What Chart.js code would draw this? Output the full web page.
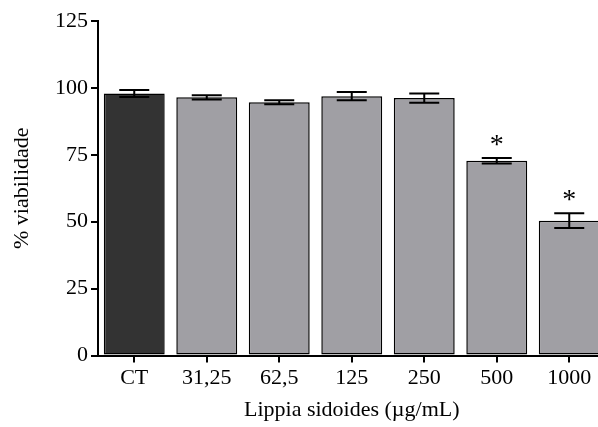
<!DOCTYPE html>
<html>
<head>
<meta charset="utf-8">
<script src="https://cdn.jsdelivr.net/npm/chart.js@4.4.1/dist/chart.umd.min.js"></script>
<style>
  html, body { margin: 0; padding: 0; background: #fff; overflow: hidden; }
  #wrap { width: 610px; height: 427px; position: relative; }
</style>
</head>
<body>
<div id="wrap"><canvas id="chart"></canvas></div>
<script>
// data
const categories = ['CT', '31,25', '62,5', '125', '250', '500', '1000'];
const viability  = [97.9, 96.5, 94.6, 96.9, 96.2, 72.8, 50.4];
const sem        = [1.3, 0.8, 0.75, 1.55, 1.75, 1.05, 2.8];
const signif     = [false, false, false, false, false, true, true];
const barColors  = ['#333333', '#a09fa4', '#a09fa4', '#a09fa4', '#a09fa4', '#a09fa4', '#a09fa4'];
const yTicks     = [0, 25, 50, 75, 100, 125];

const FONT = 'Liberation Serif';

// error bars + significance stars, placed through the y scale
const errorBars = {
  id: 'errorBars',
  afterDatasetsDraw(chart) {
    const ctx  = chart.ctx;
    const y    = chart.scales.y;
    const meta = chart.getDatasetMeta(0);
    ctx.save();
    ctx.strokeStyle = '#000';
    ctx.lineWidth = 2;
    meta.data.forEach((bar, i) => {
      const x   = bar.x;
      const top = y.getPixelForValue(viability[i] + sem[i]);
      const bot = y.getPixelForValue(viability[i] - sem[i]);
      const hw  = 15;
      ctx.beginPath();
      ctx.moveTo(x, top); ctx.lineTo(x, bot);
      ctx.moveTo(x - hw, top); ctx.lineTo(x + hw, top);
      ctx.moveTo(x - hw, bot); ctx.lineTo(x + hw, bot);
      ctx.stroke();
      if (signif[i]) {
        ctx.fillStyle = '#000';
        ctx.font = `28px "${FONT}"`;
        ctx.textAlign = 'center';
        ctx.textBaseline = 'middle';
        ctx.fillText('*', x, top - 12);
      }
    });
    ctx.restore();
  }
};

new Chart(document.getElementById('chart'), {
  type: 'bar',
  data: {
    labels: categories,
    datasets: [{
      data: viability,
      backgroundColor: barColors,
      borderColor: '#000',
      borderWidth: 1.5,
      borderSkipped: false,
      barPercentage: 0.84,
      categoryPercentage: 1,
    }],
  },
  options: {
    animation: false,
    responsive: true,
    maintainAspectRatio: false,
    layout: { padding: { top: 21, right: 4.5, left: 0, bottom: 0 } },
    plugins: { legend: { display: false }, tooltip: { enabled: false } },
    scales: {
      x: {
        offset: true,
        grid: { offset: false, drawOnChartArea: false, drawTicks: true, tickLength: 7, color: '#000', lineWidth: 2 },
        border: { display: true, color: '#000', width: 2 },
        ticks: { color: '#000', font: { family: FONT, size: 22 }, padding: 3, maxRotation: 0 },
        title: {
          display: true,
          text: 'Lippia sidoides (µg/mL)',
          color: '#000',
          font: { family: FONT, size: 22 },
          padding: { top: 4, bottom: 4 },
        },
        afterFit: s => { s.height = 71.5; },
      },
      y: {
        min: 0,
        max: 125,
        afterBuildTicks: s => { s.ticks = yTicks.map(v => ({ value: v })); },
        grid: { drawOnChartArea: false, drawTicks: true, tickLength: 7, color: '#000', lineWidth: 2 },
        border: { display: true, color: '#000', width: 2 },
        ticks: { color: '#000', font: { family: FONT, size: 22 }, padding: 3 },
        title: {
          display: true,
          text: '% viabilidade',
          color: '#000',
          font: { family: FONT, size: 22 },
          padding: { top: 9, bottom: 4 },
        },
        afterFit: s => { s.width = 98; },
      },
    },
  },
  plugins: [errorBars],
});
</script>
</body>
</html>
